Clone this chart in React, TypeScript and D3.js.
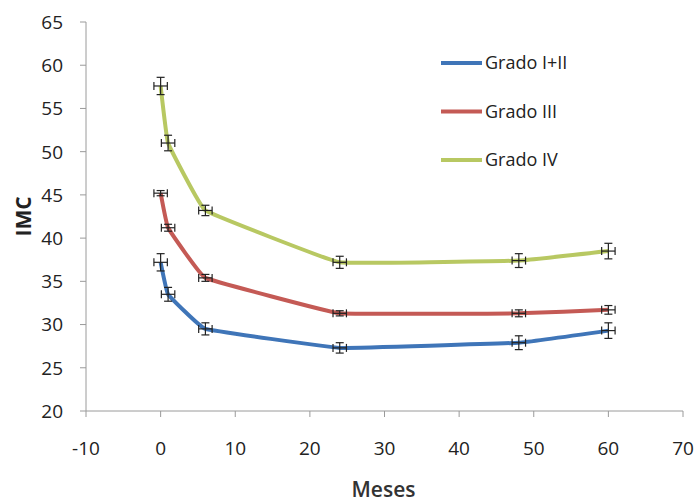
import React from "react";
import * as d3 from "d3";

// Months of follow-up
const months = [0, 1, 6, 24, 48, 60];
const monthErr = [0.9, 0.9, 0.9, 0.9, 0.9, 0.9];

// IMC means and error half-widths per group
const gradoI_II = [37.2, 33.5, 29.5, 27.3, 27.9, 29.3];
const gradoI_II_err = [1.0, 0.8, 0.7, 0.6, 0.8, 0.9];
const gradoIII = [45.2, 41.2, 35.4, 31.3, 31.3, 31.7];
const gradoIII_err = [0.3, 0.4, 0.4, 0.3, 0.4, 0.5];
const gradoIV = [57.6, 51.0, 43.2, 37.2, 37.4, 38.5];
const gradoIV_err = [1.0, 0.9, 0.6, 0.7, 0.8, 0.9];

const seriesNames = ["Grado I+II", "Grado III", "Grado IV"];
const xTicks = [-10, 0, 10, 20, 30, 40, 50, 60, 70];
const yTicks = [20, 25, 30, 35, 40, 45, 50, 55, 60, 65];

const W = 697;
const H = 503;
const font = "'Open Sans', 'Noto Sans', sans-serif";
const colors = ["#3f75b8", "#c45a55", "#b8c862"];

export default function App() {
  const x = d3.scaleLinear().domain([-10, 70]).range([86, 683]);
  const y = d3.scaleLinear().domain([20, 65]).range([411, 22]);

  const series = [
    { name: seriesNames[0], vals: gradoI_II, err: gradoI_II_err, color: colors[0] },
    { name: seriesNames[1], vals: gradoIII, err: gradoIII_err, color: colors[1] },
    { name: seriesNames[2], vals: gradoIV, err: gradoIV_err, color: colors[2] },
  ];

  const line = d3
    .line<[number, number]>()
    .x((d) => x(d[0]))
    .y((d) => y(d[1]))
    .curve(d3.curveCardinal.tension(0.8));

  const axisColor = "#9a9a9a";
  const cap = 4;

  return (
    <svg width={W} height={H} style={{ position: "absolute", left: 0, top: 0, background: "#fff" }}>
      {/* axes */}
      <line x1={x(-10)} x2={x(-10)} y1={y(65)} y2={y(20)} stroke={axisColor} strokeWidth={1} />
      <line x1={x(-10)} x2={x(70)} y1={y(20)} y2={y(20)} stroke={axisColor} strokeWidth={1} />
      {yTicks.map((t) => (
        <g key={"y" + t}>
          <line x1={x(-10) - 6} x2={x(-10)} y1={y(t)} y2={y(t)} stroke={axisColor} />
          <text
            x={63}
            y={y(t)}
            dy="0.36em"
            textAnchor="end"
            fontFamily={font}
            fontSize={19}
            fill="#222"
          >
            {t}
          </text>
        </g>
      ))}
      {xTicks.map((t) => (
        <g key={"x" + t}>
          <line x1={x(t)} x2={x(t)} y1={y(20)} y2={y(20) + 6} stroke={axisColor} />
          <text
            x={x(t)}
            y={455}
            textAnchor="middle"
            fontFamily={font}
            fontSize={19}
            fill="#222"
          >
            {t}
          </text>
        </g>
      ))}
      <text
        transform={`translate(24, ${y(42.5)}) rotate(-90)`}
        textAnchor="middle"
        dy="0.35em"
        fontFamily={font}
        fontSize={21}
        fontWeight="bold"
        fill="#222"
      >
        IMC
      </text>
      <text
        x={x(30) - 1}
        y={497}
        textAnchor="middle"
        fontFamily={font}
        fontSize={21}
        fontWeight={600}
        fill="#333"
      >
        Meses
      </text>

      {/* series lines */}
      {series.map((s) => (
        <path
          key={s.name}
          d={line(months.map((m, i) => [m, s.vals[i]] as [number, number])) || ""}
          fill="none"
          stroke={s.color}
          strokeWidth={4}
          strokeLinejoin="round"
        />
      ))}

      {/* error bars */}
      {series.map((s) =>
        months.map((m, i) => {
          const cx = x(m);
          const cy = y(s.vals[i]);
          const y0 = y(s.vals[i] - s.err[i]);
          const y1 = y(s.vals[i] + s.err[i]);
          const x0 = x(m - monthErr[i]);
          const x1 = x(m + monthErr[i]);
          return (
            <g key={s.name + m} stroke="#222" strokeWidth={1.2}>
              <line x1={cx} x2={cx} y1={y0} y2={y1} />
              <line x1={cx - cap} x2={cx + cap} y1={y0} y2={y0} />
              <line x1={cx - cap} x2={cx + cap} y1={y1} y2={y1} />
              <line x1={x0} x2={x1} y1={cy} y2={cy} />
              <line x1={x0} x2={x0} y1={cy - cap} y2={cy + cap} />
              <line x1={x1} x2={x1} y1={cy - cap} y2={cy + cap} />
            </g>
          );
        })
      )}

      {/* legend */}
      {series.map((s, i) => {
        const ly = 63 + i * 48.5;
        return (
          <g key={"leg" + s.name}>
            <line x1={441} x2={482} y1={ly} y2={ly} stroke={s.color} strokeWidth={4} />
            <text x={485} y={ly} dy="0.36em" fontFamily={font} fontSize={18} fill="#222">
              {s.name}
            </text>
          </g>
        );
      })}
    </svg>
  );
}
